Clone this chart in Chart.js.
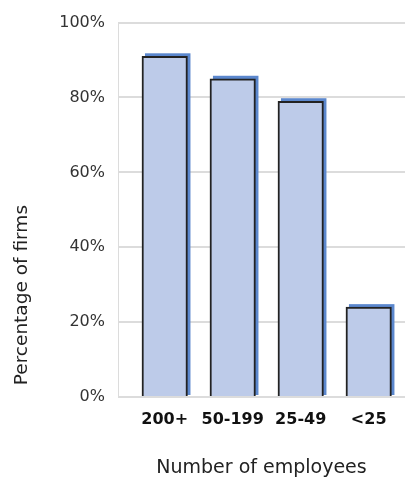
<!DOCTYPE html>
<html>
<head>
<meta charset="utf-8">
<script src="https://cdn.jsdelivr.net/npm/chart.js@4/dist/chart.umd.min.js"></script>
<style>
  html, body { margin: 0; padding: 0; background: #fff; }
  canvas { display: block; }
</style>
</head>
<body>
<canvas id="chart" width="405" height="481"></canvas>
<script>
// Share of firms by size band
const categories = ['200+', '50-199', '25-49', '<25'];
const shareOfFirms = [91, 85, 79, 24];
const yTickValues = [0, 20, 40, 60, 80, 100];

const FONT = 'DejaVu Sans';

// Solid offset shadow painted behind each bar, taken from the bar's own geometry
const barShadow = {
  id: 'barShadow',
  beforeDatasetsDraw(chart) {
    const ctx = chart.ctx;
    const meta = chart.getDatasetMeta(0);
    ctx.save();
    ctx.fillStyle = '#5b87cd';
    meta.data.forEach(bar => {
      const { x, y, base, width } = bar.getProps(['x', 'y', 'base', 'width'], true);
      ctx.fillRect(x - width / 2 + 3, y - 3, width, base - y + 2);
    });
    ctx.restore();
  }
};

new Chart(document.getElementById('chart'), {
  type: 'bar',
  data: {
    datasets: [{
      data: categories.map((c, i) => ({ x: i, y: shareOfFirms[i] })),
      backgroundColor: '#bdcbe9',
      borderColor: '#222',
      borderWidth: 2,
      barThickness: 45.5
    }]
  },
  plugins: [barShadow],
  options: {
    responsive: false,
    animation: false,
    devicePixelRatio: 1,
    layout: { padding: { top: 20, right: 0, bottom: 0, left: 0 } },
    plugins: {
      legend: { display: false },
      tooltip: { enabled: false }
    },
    scales: {
      x: {
        type: 'linear',
        offset: false,
        min: -0.687,
        max: 3.534,
        afterBuildTicks: s => { s.ticks = categories.map((c, i) => ({ value: i })); },
        afterFit: s => { s.height = 84; },
        grid: { display: false },
        border: { display: false },
        ticks: {
          autoSkip: false,
          maxRotation: 0,
          padding: 5,
          color: '#111',
          font: { family: FONT, size: 16, weight: 'bold' },
          callback: v => categories[v]
        },
        title: {
          display: true,
          text: 'Number of employees',
          color: '#222',
          font: { family: FONT, size: 19 },
          padding: { top: 0, bottom: 2 }
        }
      },
      y: {
        min: 0,
        max: 100,
        afterBuildTicks: s => { s.ticks = yTickValues.map(v => ({ value: v })); },
        afterFit: s => { s.width = 118; },
        grid: { color: '#dcdcdc', lineWidth: 2, drawTicks: false },
        border: { display: true, color: '#dcdcdc', width: 1 },
        ticks: {
          padding: 13,
          color: '#333',
          font: { family: FONT, size: 16 },
          callback: v => v + '%'
        },
        title: {
          display: true,
          text: '  Percentage of firms',
          align: 'start',
          color: '#222',
          font: { family: FONT, size: 18.5 },
          padding: { top: 11, bottom: 0 }
        }
      }
    }
  }
});
</script>
</body>
</html>
